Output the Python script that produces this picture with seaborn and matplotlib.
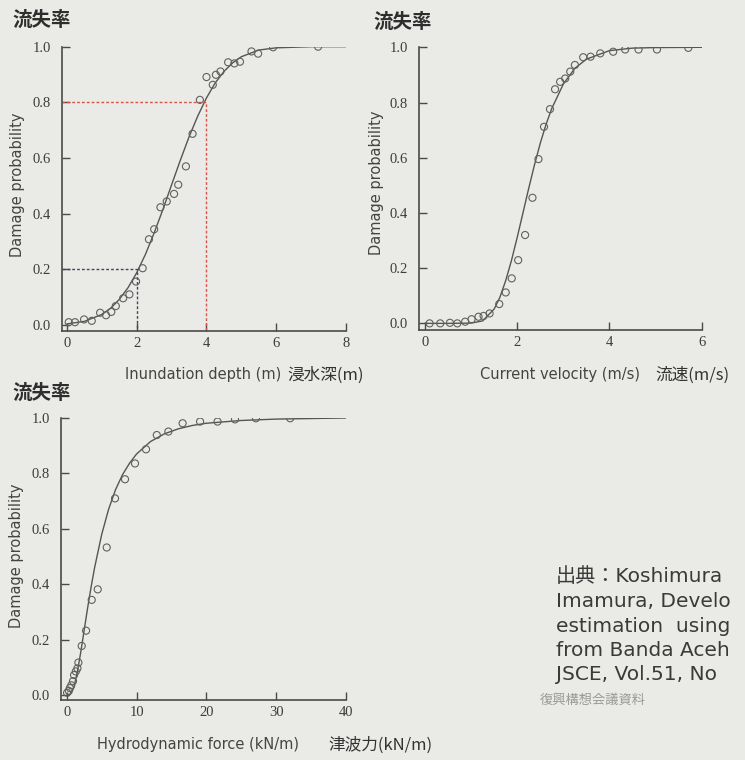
import numpy as np
import pandas as pd
import seaborn as sns
import matplotlib.pyplot as plt

# observed damage probabilities (circles)
depth_x = [0.05, 0.23, 0.49, 0.71, 0.95, 1.12, 1.27, 1.40, 1.61, 1.79, 1.98, 2.17, 2.35, 2.50, 2.68, 2.86,
           3.07, 3.19, 3.41, 3.60, 3.81, 4.00, 4.18, 4.27, 4.40, 4.62, 4.80, 4.96, 5.29, 5.48, 5.91, 7.20]
depth_p = [0.01, 0.01, 0.02, 0.015, 0.044, 0.035, 0.047, 0.068, 0.096, 0.11, 0.156, 0.204, 0.308, 0.344, 0.423, 0.444,
           0.471, 0.504, 0.57, 0.687, 0.809, 0.891, 0.863, 0.899, 0.911, 0.944, 0.940, 0.946, 0.983, 0.975, 0.998, 1.0]

vel_x = [0.10, 0.33, 0.54, 0.70, 0.87, 1.01, 1.16, 1.27, 1.40, 1.61, 1.75, 1.88, 2.02, 2.17, 2.33, 2.46,
         2.58, 2.71, 2.82, 2.93, 3.04, 3.15, 3.25, 3.43, 3.59, 3.80, 4.08, 4.34, 4.63, 5.03, 5.71]
vel_p = [0.0, 0.0, 0.002, 0.0, 0.006, 0.015, 0.024, 0.027, 0.036, 0.07, 0.112, 0.163, 0.229, 0.32, 0.455, 0.595,
         0.712, 0.776, 0.848, 0.875, 0.887, 0.912, 0.936, 0.964, 0.966, 0.978, 0.984, 0.992, 0.992, 0.992, 0.998]

force_x = [0.05, 0.3, 0.45, 0.65, 0.9, 1.05, 1.3, 1.53, 1.67, 2.15, 2.77, 3.58, 4.44, 5.73, 6.92, 8.35,
           9.78, 11.36, 12.9, 14.56, 16.6, 19.1, 21.6, 24.1, 27.1, 32.0]
force_p = [0.008, 0.015, 0.025, 0.035, 0.05, 0.072, 0.085, 0.096, 0.117, 0.177, 0.232, 0.343, 0.381, 0.532, 0.709, 0.778,
           0.835, 0.886, 0.9375, 0.95, 0.98, 0.986, 0.986, 0.994, 0.998, 0.998]

# fitted fragility curves
depth_curve_x = [0, 0.5, 1, 1.25, 1.5, 1.75, 2, 2.25, 2.5, 2.75, 3, 3.25, 3.5, 3.75, 4, 4.25, 4.5, 4.75,
                 5, 5.5, 6, 7, 8]
depth_curve_p = [0.004, 0.013, 0.038, 0.060, 0.092, 0.134, 0.188, 0.254, 0.331, 0.415, 0.504, 0.592, 0.676,
                 0.751, 0.816, 0.870, 0.911, 0.942, 0.964, 0.988, 0.996, 1.0, 1.0]

vel_curve_x = [0, 0.5, 1, 1.25, 1.5, 1.625, 1.75, 1.875, 2, 2.125, 2.25, 2.375, 2.5, 2.625, 2.75, 3, 3.25,
               3.5, 4, 4.5, 5, 6]
vel_curve_p = [0.0, 0.0, 0.001, 0.009, 0.052, 0.095, 0.155, 0.228, 0.312, 0.401, 0.490, 0.575, 0.653, 0.721,
               0.779, 0.867, 0.924, 0.957, 0.988, 0.997, 0.999, 1.0]

force_curve_x = [0, 0.5, 1, 1.5, 2, 2.5, 3, 3.5, 4, 5, 6, 7, 8, 9, 10, 12, 14, 16, 18, 20, 25, 30, 35, 40]
force_curve_p = [0.0, 0.002, 0.026, 0.080, 0.153, 0.234, 0.315, 0.391, 0.460, 0.578, 0.670, 0.741, 0.795,
                 0.836, 0.869, 0.914, 0.942, 0.960, 0.972, 0.980, 0.990, 0.995, 0.997, 0.999]

# guide lines in the depth panel
guide_x = [2.0, 4.0]
guide_p = [0.2, 0.8]
guide_colors = ['#3a4a6a', '#d9534a']

xlabels_en = ['Inundation depth (m)', 'Current velocity (m/s)', 'Hydrodynamic force (kN/m)']
xlabels_jp = ['浸水深(m)', '流速(m/s)', '津波力(kN/m)']
title_jp = '流失率'
ylabel = 'Damage probability'

# only the part that is visible in the reference (the rest lies past its edge)
source_lines = ['出典：Koshimura',
                'Imamura, Develo',
                'estimation  using',
                'from Banda Aceh',
                'JSCE, Vol.51, No']
source_note = '復興構想会議資料'

sns.set_theme(style='ticks')
plt.rcParams['font.family'] = ['DejaVu Sans', 'Noto Sans CJK JP']

BG = '#eaeae6'
INK = '#4a4a4a'
W, H = 745, 760

fig = plt.figure(figsize=(7.45, 7.6), dpi=100, facecolor=BG)


def px_axes(left, top, right, bottom):
    return fig.add_axes([left / W, 1 - bottom / H, (right - left) / W, (bottom - top) / H])


ax1 = px_axes(62, 46.7, 346, 331)
ax2 = px_axes(419.3, 47.3, 701.7, 330)
ax3 = px_axes(61, 417.7, 346, 700)

panels = [
    (ax1, depth_x, depth_p, depth_curve_x, depth_curve_p, (-0.143, 8), -0.0216, [0, 2, 4, 6, 8]),
    (ax2, vel_x, vel_p, vel_curve_x, vel_curve_p, (-0.124, 6), -0.024, [0, 2, 4, 6]),
    (ax3, force_x, force_p, force_curve_x, force_curve_p, (-0.82, 40), -0.018, [0, 10, 20, 30, 40]),
]

for ax, px, pp, cx, cp, xlim, ybot, xt in panels:
    ax.set_facecolor('none')
    sns.lineplot(x=cx, y=cp, ax=ax, color='#555555', linewidth=1.0, estimator=None, sort=False)
    sns.scatterplot(x=px, y=pp, ax=ax, s=26, facecolors='none', edgecolor='#606060',
                    linewidth=0.8, zorder=3)
    ax.set_xlim(*xlim)
    ax.set_ylim(ybot, 1.0)
    ax.set_xticks(xt)
    ax.set_yticks([0, 0.2, 0.4, 0.6, 0.8, 1.0])
    ax.set_yticklabels(['0.0', '0.2', '0.4', '0.6', '0.8', '1.0'])
    ax.tick_params(direction='in', length=6, width=1, color=INK, labelcolor='#3c3c3c',
                   labelsize=10.5)
    ax.tick_params(axis='y', pad=8)
    ax.tick_params(axis='x', pad=4)
    for lab in ax.get_xticklabels() + ax.get_yticklabels():
        lab.set_family('Liberation Serif')
    sns.despine(ax=ax)
    for side in ['left', 'bottom']:
        ax.spines[side].set_color(INK)
        ax.spines[side].set_linewidth(1.2)
    ax.set_xlabel('')
    ax.set_ylabel('')

for gx, gp, gc in zip(guide_x, guide_p, guide_colors):
    x0 = ax1.get_xlim()[0]
    y0 = ax1.get_ylim()[0]
    ax1.plot([x0, gx, gx], [gp, gp, y0], color=gc, linestyle=(0, (2, 1.5)), linewidth=1.0, zorder=2)

# titles, axis labels
for x, y in [(12, 20), (373, 22), (12, 393)]:
    fig.text(x / W, 1 - y / H, title_jp, fontsize=14, fontweight='bold', color='#2e2e2e',
             family='Noto Sans CJK JP', ha='left', va='center')

for x, y in [(18, 185), (376, 183), (17, 556)]:
    fig.text(x / W, 1 - y / H, ylabel, rotation=90, fontsize=10.5, color='#444444',
             ha='center', va='center')

xl_pos = [(125, 287, 375), (480, 655, 375), (97, 328, 745)]
for (xe, xj, y), en, jp in zip(xl_pos, xlabels_en, xlabels_jp):
    fig.text(xe / W, 1 - y / H, en, fontsize=10.5, color='#444444', ha='left', va='center')
    fig.text(xj / W, 1 - y / H, jp, fontsize=12, color='#333333', family='Noto Sans CJK JP',
             ha='left', va='center')

# source block on the right
for i, line in enumerate(source_lines):
    fig.text(556 / W, 1 - (577 + 24.5 * i) / H, line, fontsize=14.5, color='#3a3a3a',
             ha='left', va='center')
fig.text(540 / W, 1 - 700 / H, source_note, fontsize=9.5, color='#9a9a9a',
         family='Noto Sans CJK JP', ha='left', va='center')

fig.savefig('out.png', dpi=100, facecolor=BG)
